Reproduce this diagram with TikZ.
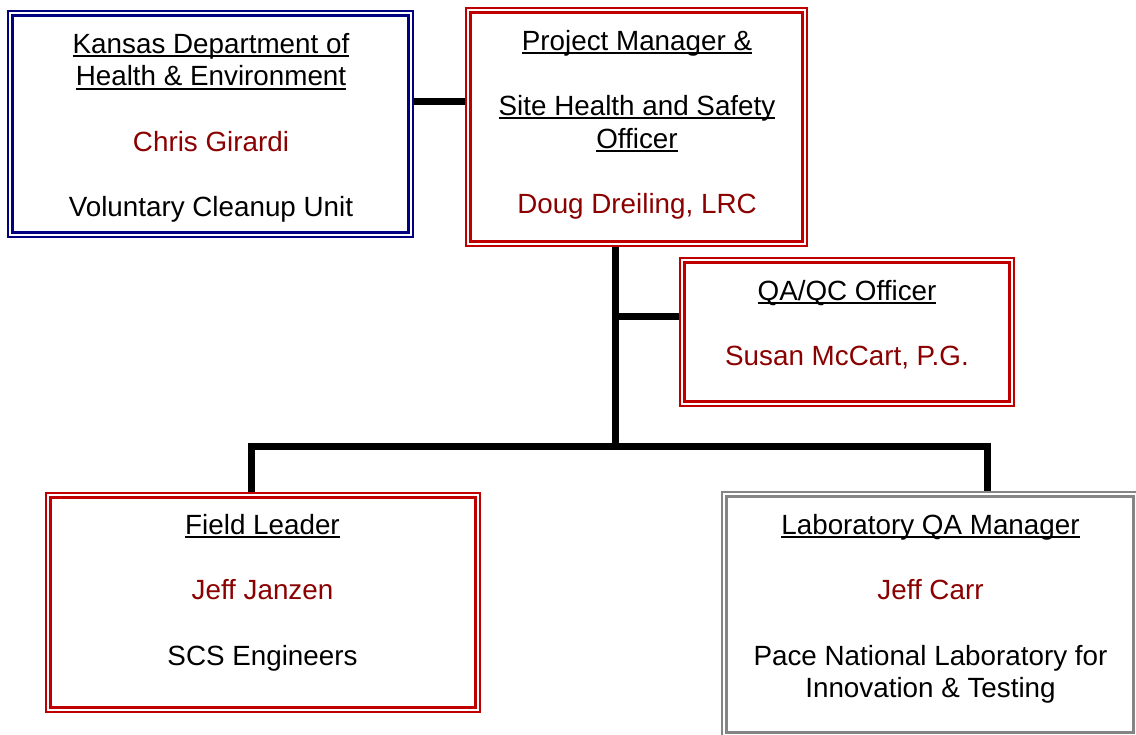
\documentclass[tikz,border=0pt]{standalone}
\usepackage{fontspec}
\setmainfont{Liberation Sans}
\definecolor{kdheblue}{HTML}{000080}
\definecolor{boxred}{HTML}{C00000}
\definecolor{boxgray}{HTML}{858585}
\definecolor{namered}{HTML}{8B0000}
% underlined heading line with a fixed rule position
\newcommand\headline[1]{\setbox0\hbox{#1}\rlap{\rule[-3.8pt]{\wd0}{2pt}}\box0}
\newcommand\who[1]{\textcolor{namered}{#1}}
\begin{document}
\begin{tikzpicture}[x=1pt,y=-1pt,
  orgbox/.style={draw=#1, line width=2.2pt, double=white, double distance=2.2pt,
    fill=white, inner sep=0pt, outer sep=3.3pt},
  boxtext/.style={anchor=north, inner sep=0pt, align=center,
    font=\fontsize{27.8}{32.7}\selectfont},
  link/.style={line width=7pt, line join=miter, black}]
\useasboundingbox (0,0) rectangle (1136,735);
\clip (0,0) rectangle (1136,735);

% boxes
\node[orgbox=kdheblue, minimum width=400.4pt, minimum height=221.4pt] (kdhe) at (210.5,124) {};
\node[orgbox=boxred,   minimum width=336.4pt, minimum height=233.4pt] (pm)   at (636.5,127) {};
\node[orgbox=boxred,   minimum width=329.4pt, minimum height=143.4pt] (qa)   at (847,332) {};
\node[orgbox=boxred,   minimum width=429.4pt, minimum height=214.4pt] (field) at (263,602.5) {};
\node[orgbox=boxgray,  minimum width=411.4pt, minimum height=240.4pt] (lab)  at (930,614.5) {};

% texts
\node[boxtext] (kdhe-t) at (211,29) {\rule{0pt}{24pt}\headline{Kansas Department of}\\
  \headline{Health \& Environment}\\[32.7pt]
  \who{Chris Girardi}\\[32.7pt]
  Voluntary Cleanup Unit};
\node[boxtext] (pm-t) at (637,26) {\rule{0pt}{24pt}\headline{Project Manager \&}\\[32.7pt]
  \headline{Site Health and Safety}\\
  \headline{Officer}\\[32.7pt]
  \who{Doug Dreiling, LRC}};
\node[boxtext] (qa-t) at (847,276) {\rule{0pt}{24pt}\headline{QA/QC Officer}\\[32.7pt]
  \who{Susan McCart, P.G.}};
\node[boxtext] (field-t) at (262.5,510) {\rule{0pt}{24pt}\headline{Field Leader}\\[32.7pt]
  \who{Jeff Janzen}\\[32.7pt]
  SCS Engineers};
\node[boxtext] (lab-t) at (930.5,510) {\rule{0pt}{24pt}\headline{Laboratory QA Manager}\\[32.7pt]
  \who{Jeff Carr}\\[32.7pt]
  Pace National Laboratory for\\
  Innovation \& Testing};

% connectors
\coordinate (trunk) at (615,446);
\coordinate (qa-tap) at (615,317);
\coordinate (busL) at (251,446);
\coordinate (busR) at (987,446);
\draw[link] (kdhe.east |- 0,102) -- (pm.west |- 0,102);
\draw[link] (pm.south -| trunk) -- (trunk);
\draw[link] (qa-tap) -- (qa.west |- qa-tap);
\draw[link] (busL |- field.north) -- (busL) -- (busR) -- (busR |- lab.north);
\end{tikzpicture}
\end{document}
